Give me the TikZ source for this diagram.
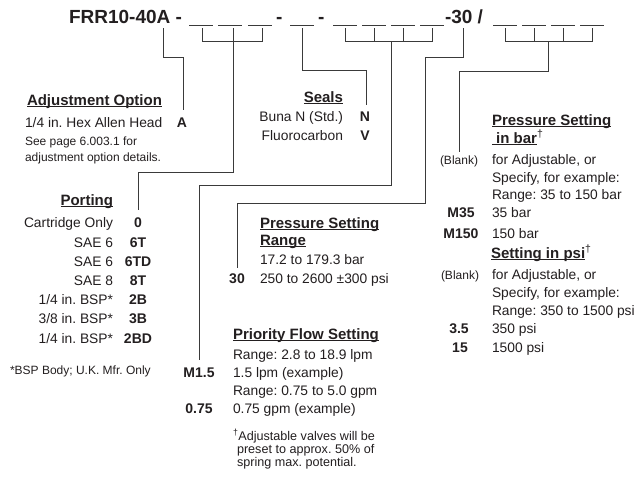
\documentclass[tikz,border=0pt]{standalone}
\usepackage{fontspec}
\setmainfont{Liberation Sans}
\newsavebox\ulbox
\newcommand\ulx[1]{\sbox\ulbox{#1}\rlap{\rule[-2.2pt]{\wd\ulbox}{0.9pt}}\usebox\ulbox}
\definecolor{ink}{HTML}{231F20}
\definecolor{wirec}{HTML}{3A3A3A}
\tikzset{
  txt/.style={inner sep=0pt, outer sep=0pt, text=ink, font=\fontsize{13.8}{18}\selectfont},
  L/.style={txt, anchor=base west},
  R/.style={txt, anchor=base east},
  code/.style={txt, anchor=base, font=\fontsize{14}{18}\selectfont\bfseries},
  head/.style={txt, font=\fontsize{15}{18}\selectfont\bfseries},
  small/.style={txt, font=\fontsize{12}{16}\selectfont},
  fnote/.style={txt, anchor=base west, font=\fontsize{12.6}{16}\selectfont},
  ttl/.style={txt, anchor=base west, font=\fontsize{19}{22}\selectfont\bfseries},
  wire/.style={draw=wirec, line width=0.9pt},
  blank/.style={draw=wirec, line width=0.7pt},
}
\begin{document}
\frenchspacing
\begin{tikzpicture}[x=1pt,y=-1pt]
\useasboundingbox (0,0) rectangle (636,477);
\fill[white] (0,0) rectangle (636,477);

% ---- title line ----
\node[ttl] (title) at (69,23) {FRR10-40A -};
\node[ttl] (dash2) at (276,23) {-};
\node[ttl] (dash3) at (318,23) {-};
\node[ttl] (thirty) at (445,23) {-30 /};

% blanks
\foreach \a in {189,218,248,290,333,362,391,420,493,522,551,580}
  \draw[blank] (\a,25) -- ++(24,0);

% ---- codes ----
\node[code] (cA) at (182,127) {A};
\node[code] (c0) at (138,227) {0};
\node[code] (c6T) at (138,247) {6T};
\node[code] (c6TD) at (138,266) {6TD};
\node[code] (c8T) at (138,285) {8T};
\node[code] (c2B) at (138,304) {2B};
\node[code] (c3B) at (138,323) {3B};
\node[code] (c2BD) at (138,343) {2BD};
\node[code] (cN) at (365,121) {N};
\node[code] (cV) at (365,140) {V};
\node[code] (c30) at (237,283) {30};
\node[code] (cM15) at (199,377) {M1.5};
\node[code] (c075) at (199,413) {0.75};
\node[small, anchor=base] (cBl1) at (459,164) {(Blank)};
\node[code] (cM35) at (461,217) {M35};
\node[code] (cM150) at (461,238) {M150};
\node[small, anchor=base] (cBl2) at (460,279) {(Blank)};
\node[code] (c35) at (459,333) {3.5};
\node[code] (c15) at (460,352) {15};

% ---- connectors ----
\coordinate (aTop) at (163,28);
\coordinate (aEnd) at (183,110);
\draw[wire] (aTop) |- (183,57) -- (aEnd);

\coordinate (pStem) at (233,41);
\coordinate (pEnd) at (138,210);
\draw[wire] (202,28) -- (202,41) -- (262,41) -- (262,28);
\draw[wire] (233,28) -- (pStem);
\draw[wire] (pStem) |- (138,172) -- (pEnd);

\coordinate (sTop) at (302,28);
\coordinate (sEnd) at (366,105);
\draw[wire] (sTop) |- (366,70) -- (sEnd);

\coordinate (fStem) at (391,41);
\coordinate (fEnd) at (199,360);
\draw[wire] (345,28) -- (345,41) -- (432,41) -- (432,28);
\draw[wire] (374,28) -- (374,41);
\draw[wire] (403,28) -- (403,41);
\draw[wire] (fStem) |- (199,185) -- (fEnd);

\coordinate (rTop) at (463,28);
\coordinate (rEnd) at (237,268);
\draw[wire] (rTop) |- (425,57) |- (237,203) -- (rEnd);

\coordinate (bStem) at (548,41);
\coordinate (bEnd) at (459,152);
\draw[wire] (505,28) -- (505,41) -- (592,41) -- (592,28);
\draw[wire] (534,28) -- (534,41);
\draw[wire] (563,28) -- (563,41);
\draw[wire] (bStem) |- (459,71) -- (bEnd);

% ---- Adjustment option ----
\node[head, anchor=base west] (hAdj) at (27,105) {\ulx{Adjustment Option}};
\node[L] (tAdj) at (25,127) {1/4 in. Hex Allen Head};
\node[small, anchor=base west] (tSee1) at (25,145) {See page 6.003.1 for};
\node[small, anchor=base west] (tSee2) at (25,161) {adjustment option details.};

% ---- Porting ----
\node[head, anchor=base east] (hPort) at (113,205) {\ulx{Porting}};
\node[R] (t0) at (113,227) {Cartridge Only};
\node[R] (t6T) at (113,247) {SAE 6};
\node[R] (t6TD) at (113,266) {SAE 6};
\node[R] (t8T) at (113,285) {SAE 8};
\node[R] (t2B) at (113,304) {1/4 in. BSP*};
\node[R] (t3B) at (113,323) {3/8 in. BSP*};
\node[R] (t2BD) at (113,343) {1/4 in. BSP*};
\node[small, anchor=base west] (tBSP) at (10,374) {*BSP Body; U.K. Mfr. Only};

% ---- Seals ----
\node[head, anchor=base east] (hSeal) at (343,102) {\ulx{Seals}};
\node[R] (tN) at (343,121) {Buna N (Std.)};
\node[R] (tV) at (343,140) {Fluorocarbon};

% ---- Pressure setting range ----
\node[head, anchor=base west] (hRng1) at (260,228) {\ulx{Pressure Setting}};
\node[head, anchor=base west] (hRng2) at (260,245) {\ulx{Range}};
\node[L] (tR1) at (260,264) {17.2 to 179.3 bar};
\node[L] (tR2) at (260,283) {250 to 2600 ±300 psi};

% ---- Priority flow ----
\node[head, anchor=base west] (hFlow) at (233,339) {\ulx{Priority Flow Setting}};
\node[L] (tF1) at (233,359) {Range: 2.8 to 18.9 lpm};
\node[L] (tF2) at (233,377) {1.5 lpm (example)};
\node[L] (tF3) at (233,395) {Range: 0.75 to 5.0 gpm};
\node[L] (tF4) at (233,413) {0.75 gpm (example)};
\node[fnote] (tFn1) at (233,440) {\textsuperscript{†}Adjustable valves will be};
\node[fnote] (tFn2) at (237,453) {preset to approx. 50\% of};
\node[fnote] (tFn3) at (237,466) {spring max. potential.};

% ---- Pressure setting in bar / psi ----
\node[head, anchor=base west] (hBar1) at (492,125) {\ulx{Pressure Setting}};
\node[head, anchor=base west] (hBar2) at (492,143) {\ulx{\ in bar}\textsuperscript{\normalfont †}};
\node[L] (tB1) at (492,164) {for Adjustable, or};
\node[L] (tB2) at (492,182) {Specify, for example:};
\node[L] (tB3) at (492,199) {Range: 35 to 150 bar};
\node[L] (tB4) at (492,217) {35 bar};
\node[L] (tB5) at (492,238) {150 bar};
\node[head, anchor=base west] (hPsi) at (491,258) {\ulx{Setting in psi}\textsuperscript{\normalfont †}};
\node[L] (tP1) at (492,279) {for Adjustable, or};
\node[L] (tP2) at (492,297) {Specify, for example:};
\node[L] (tP3) at (492,315) {Range: 350 to 1500 psi};
\node[L] (tP4) at (492,333) {350 psi};
\node[L] (tP5) at (492,352) {1500 psi};
\end{tikzpicture}
\end{document}
